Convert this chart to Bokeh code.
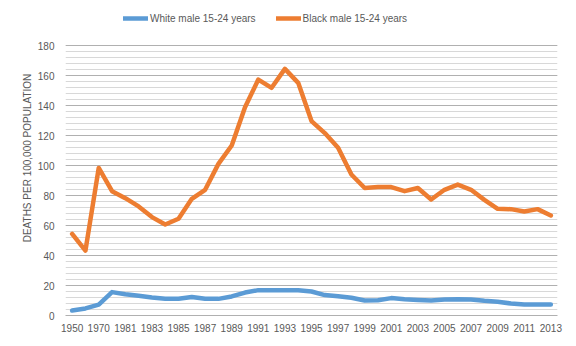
from bokeh.plotting import figure
from bokeh.models import Range1d, FixedTicker, SingleIntervalTicker, Legend, LegendItem, Title
from bokeh.embed import file_html
from bokeh.resources import INLINE

years = [1950, 1960, 1970, 1980] + list(range(1981, 2014))

white_male = [3.3, 4.7, 7.3, 15.6, 14.2, 13.1, 12.0, 11.1, 11.1, 12.4, 11.1, 11.1, 12.7,
              15.3, 16.9, 16.9, 16.9, 16.9, 16.0, 13.6, 12.9, 11.8, 10.0, 10.2, 11.6,
              10.9, 10.4, 10.0, 10.7, 10.9, 10.7, 9.8, 9.1, 8.0, 7.3, 7.3, 7.3]

black_male = [54.4, 43.3, 98.4, 82.9, 78.2, 72.7, 65.6, 60.7, 64.5, 77.8, 83.8, 101.1,
              113.3, 138.9, 157.3, 151.8, 164.4, 155.1, 129.6, 121.6, 111.8, 94.0, 85.0,
              85.6, 85.6, 82.9, 85.0, 77.3, 83.8, 87.3, 83.8, 77.1, 71.1, 70.9, 69.3,
              70.9, 66.7]

series_names = ["White male 15-24 years", "Black male 15-24 years"]
y_title = "DEATHS PER 100,000 POPULATION"
y_max = 180

idx = list(range(len(years)))
FONT = "Liberation Sans"
TXT = "#595959"

# frame spans from the top of the canvas down to the x axis; the value area is 0..180
# (1.5 px per unit), the space above holds the legend
p = figure(width=576, height=346,
           output_backend="svg", toolbar_location=None,
           x_range=Range1d(-0.5, len(years) - 0.5), y_range=Range1d(0, 210),
           min_border_left=65, min_border_right=19, min_border_top=0, min_border_bottom=31)
p.outline_line_color = None
p.background_fill_color = "white"
p.border_fill_color = "white"

# axes
p.xaxis.ticker = FixedTicker(ticks=idx[::2])
p.xaxis.major_label_overrides = {i: str(y) for i, y in zip(idx, years)}
p.xaxis.axis_line_color = "#b0b0b0"
p.xaxis.axis_line_width = 1.2
p.xaxis.major_tick_line_color = None
p.xaxis.minor_tick_line_color = None
p.xaxis.major_tick_out = 0
p.xaxis.major_tick_in = 0
p.xaxis.minor_tick_out = 0
p.xaxis.major_label_standoff = 8
p.xaxis.major_label_text_font = FONT
p.xaxis.major_label_text_font_size = "10px"
p.xaxis.major_label_text_color = TXT

p.yaxis.ticker = SingleIntervalTicker(interval=20, num_minor_ticks=5)
p.yaxis.bounds = (0, y_max)
p.yaxis.axis_line_color = None
p.yaxis.major_tick_line_color = None
p.yaxis.minor_tick_line_color = None
p.yaxis.major_tick_out = 0
p.yaxis.major_tick_in = 0
p.yaxis.minor_tick_out = 0
p.yaxis.major_label_standoff = 11
p.yaxis.major_label_text_font = FONT
p.yaxis.major_label_text_font_size = "10px"
p.yaxis.major_label_text_color = TXT

p.add_layout(Title(text=y_title, align="center", offset=-22.5, standoff=4,
                   text_font=FONT, text_font_size="10px", text_font_style="normal",
                   text_color=TXT), "left")

p.xgrid.grid_line_color = None
p.ygrid.bounds = (0, y_max)
p.ygrid.grid_line_color = "#b0b0b0"
p.ygrid.grid_line_width = 1.2
p.ygrid.grid_line_alpha = 1.0
p.ygrid.minor_grid_line_color = "#d8d8d8"
p.ygrid.minor_grid_line_width = 1.2
p.ygrid.minor_grid_line_alpha = 1.0

r1 = p.line(idx, white_male, line_color="#5B9BD5", line_width=4.5, line_join="round", line_cap="round")
r2 = p.line(idx, black_male, line_color="#ED7D31", line_width=4.5, line_join="round", line_cap="round")

legend = Legend(items=[LegendItem(label=series_names[0], renderers=[r1]),
                       LegendItem(label=series_names[1], renderers=[r2])],
                orientation="horizontal", location=(58, 287),
                padding=0, margin=0, spacing=20, glyph_width=25, glyph_height=20,
                label_standoff=2, label_text_font=FONT, label_text_font_size="10px",
                label_text_color=TXT, background_fill_alpha=0, border_line_color=None)
p.add_layout(legend, "center")

open("out.html", "w").write(file_html(p, INLINE))
